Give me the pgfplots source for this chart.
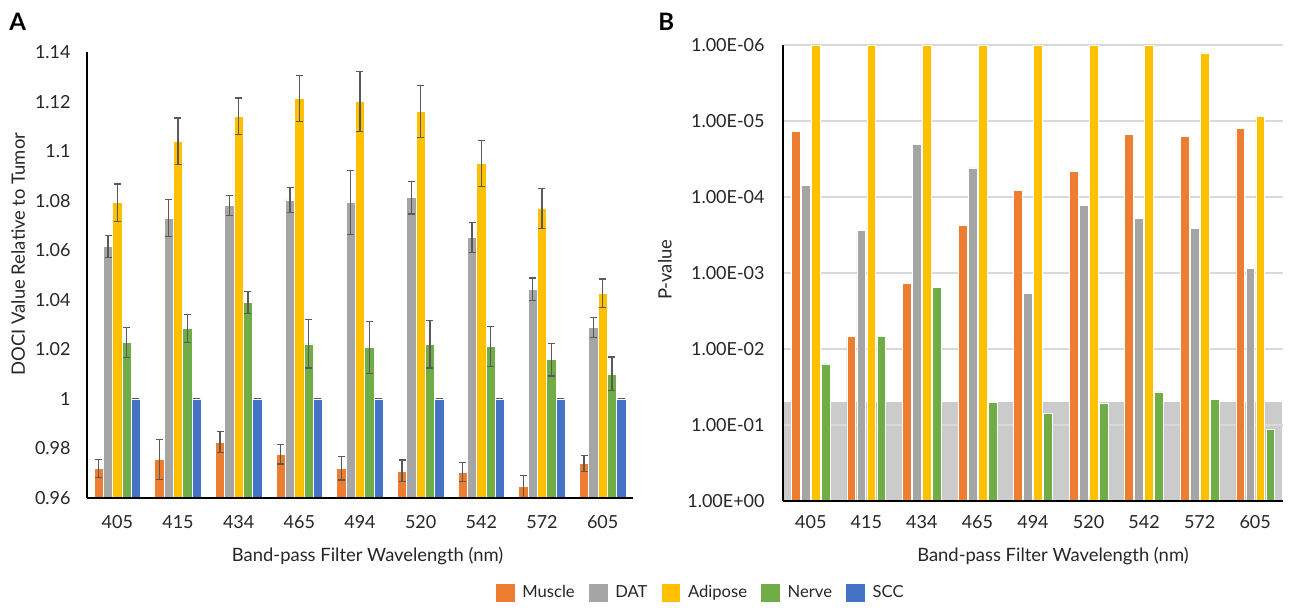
\documentclass[border=0pt]{standalone}
\usepackage{fontspec}
\setmainfont{Lato}
\usepackage{pgfplots}
\usepackage{pgfplotstable}
\pgfplotsset{compat=1.18}
\definecolor{cMus}{HTML}{ED7D31}
\definecolor{cDat}{HTML}{A5A5A5}
\definecolor{cAdi}{HTML}{FFC000}
\definecolor{cNer}{HTML}{70AD47}
\definecolor{cScc}{HTML}{4472C4}
\definecolor{cErr}{HTML}{595959}
\definecolor{cGrid}{HTML}{D9D9D9}
\definecolor{cShade}{HTML}{CBCBCB}

\pgfplotstableread{
x muscle mE dat dE adi aE nerve nE scc sE
0 0.9720 0.0036 1.0615 0.0044 1.0792 0.0075 1.0228 0.0060 1.0 0
1 0.9756 0.0080 1.0729 0.0075 1.1040 0.0094 1.0284 0.0055 1.0 0
2 0.9825 0.0042 1.0780 0.0040 1.1140 0.0074 1.0388 0.0044 1.0 0
3 0.9777 0.0040 1.0803 0.0050 1.1213 0.0093 1.0222 0.0097 1.0 0
4 0.9720 0.0047 1.0792 0.0130 1.1200 0.0122 1.0208 0.0105 1.0 0
5 0.9709 0.0044 1.0812 0.0066 1.1160 0.0104 1.0220 0.0095 1.0 0
6 0.9704 0.0038 1.0652 0.0060 1.0950 0.0094 1.0212 0.0080 1.0 0
7 0.9647 0.0045 1.0443 0.0045 1.0768 0.0080 1.0158 0.0066 1.0 0
8 0.9740 0.0033 1.0287 0.0040 1.0427 0.0057 1.0101 0.0068 1.0 0
}\doci

\pgfplotstableread{
x muscle dat adi nerve
0 1.36e-5 7.10e-5 1.00e-6 0.0157
1 6.80e-3 2.77e-4 1.00e-6 0.0068
2 1.38e-3 2.03e-5 1.00e-6 0.00153
3 2.34e-4 4.15e-5 1.00e-6 0.0510
4 8.26e-5 1.87e-3 1.00e-6 0.0700
5 4.55e-5 1.29e-4 1.00e-6 0.0518
6 1.50e-5 1.90e-4 1.00e-6 0.0368
7 1.59e-5 2.56e-4 1.27e-6 0.0465
8 1.25e-5 8.60e-4 8.77e-6 0.1130
}\pval

\pgfplotsset{
  sqleg/.style={legend image code/.code={\fill[##1] (0pt,-4.9pt) rectangle (9.8pt,4.9pt);}},
  errb/.style={error bars/.cd, y dir=both, y explicit,
     error bar style={color=cErr, line width=0.6pt},
     error mark options={rotate=90, mark size=1.75pt, line width=0.6pt, color=cErr}},
}

\begin{document}
\begin{tikzpicture}
\useasboundingbox (0,0) rectangle (646pt,-304pt);
\node[anchor=north west, inner sep=0pt, font=\fontsize{12}{14}\selectfont\bfseries] at (4.5pt,-6.5pt) {A};
\node[anchor=north west, inner sep=0pt, font=\fontsize{12}{14}\selectfont\bfseries] at (329pt,-6.5pt) {B};

\begin{axis}[
  at={(43.5pt,-26pt)}, anchor=north west, scale only axis,
  width=273pt, height=223pt,
  xmin=-0.5, xmax=8.5, ymin=0.96, ymax=1.14,
  ybar=0pt, bar width=4.65pt, axis on top,
  xtick={0,...,8}, xticklabels={405,415,434,465,494,520,542,572,605},
  ytick={0.96,0.98,1,1.02,1.04,1.06,1.08,1.1,1.12,1.14},
  yticklabels={0.96,0.98,1,1.02,1.04,1.06,1.08,1.1,1.12,1.14},
  axis x line*=bottom, axis y line*=left,
  axis line style={black, line width=0.6pt, -},
  major tick length=0pt,
  tick label style={font=\fontsize{9}{11}\selectfont, text=black!85},
  xticklabel style={anchor=north, inner sep=0pt, yshift=-8.5pt},
  yticklabel style={anchor=east, inner sep=0pt, xshift=-8pt},
  label style={font=\fontsize{9.2}{11}\selectfont, text=black!85},
  ylabel={DOCI Value Relative to Tumor},
  ylabel style={at={(axis description cs:-0.126,0.547)}, anchor=center},
  xlabel={Band-pass Filter Wavelength (nm)},
  xlabel style={at={(axis description cs:0.514,-0.130)}, anchor=center},
  legend columns=5,
  legend style={draw=none, fill=none, at={(1.128,-0.213)}, anchor=center,
    font=\fontsize{8.3}{10}\selectfont, text=black!85,
    /tikz/every even column/.append style={column sep=3.2pt},
    nodes={inner sep=3.5pt}},
]
\addplot[ybar, fill=cMus, draw=white, line width=0.3pt, sqleg, errb] table[x=x, y=muscle, y error=mE] {\doci};
\addplot[ybar, fill=cDat, draw=white, line width=0.3pt, sqleg, errb] table[x=x, y=dat, y error=dE] {\doci};
\addplot[ybar, fill=cAdi, draw=white, line width=0.3pt, sqleg, errb] table[x=x, y=adi, y error=aE] {\doci};
\addplot[ybar, fill=cNer, draw=white, line width=0.3pt, sqleg, errb] table[x=x, y=nerve, y error=nE] {\doci};
\addplot[ybar, fill=cScc, draw=white, line width=0.3pt, sqleg, errb] table[x=x, y=scc, y error=sE] {\doci};
\legend{Muscle, DAT, Adipose, Nerve, SCC}
\end{axis}

\begin{axis}[
  at={(391.5pt,-22.5pt)}, anchor=north west, scale only axis,
  width=250pt, height=228pt,
  xmin=-0.5, xmax=8.5, ymode=log, ymin=1e-6, ymax=1, y dir=reverse,
  bar width=4.4pt, clip=false,
  xtick={0,...,8}, xticklabels={405,415,434,465,494,520,542,572,605},
  ytick={1e-6,1e-5,1e-4,1e-3,1e-2,1e-1,1},
  yticklabels={1.00E-06,1.00E-05,1.00E-04,1.00E-03,1.00E-02,1.00E-01,1.00E+00},
  ymajorgrids, major grid style={color=cGrid, line width=0.8pt},
  axis x line*=bottom, axis y line*=left,
  axis line style={black, line width=0.6pt, -},
  major tick length=0pt, minor tick length=0pt,
  tick label style={font=\fontsize{9}{11}\selectfont, text=black!85},
  xticklabel style={anchor=north, inner sep=0pt, yshift=-7pt},
  yticklabel style={anchor=east, inner sep=0pt, xshift=-9pt},
  label style={font=\fontsize{9.2}{11}\selectfont, text=black!85},
  ylabel={P-value},
  ylabel style={at={(axis description cs:-0.236,0.507)}, anchor=center},
  xlabel={Band-pass Filter Wavelength (nm)},
  xlabel style={at={(axis description cs:0.54,-0.121)}, anchor=center},
]
% shaded band p > 0.05: one full-width bar from 1 to 0.05
\addplot[ybar, bar width=249.4pt, bar shift=0pt, fill=cShade, draw=none, forget plot] coordinates {(4,0.05)};
\addplot[color=cGrid, line width=0.8pt, forget plot] coordinates {(-0.5,0.1) (8.5,0.1)};
\addplot[ybar, bar shift=-7.5pt, fill=cMus, draw=white, line width=0.3pt] table[x=x, y=muscle] {\pval};
\addplot[ybar, bar shift=-2.5pt, fill=cDat, draw=white, line width=0.3pt] table[x=x, y=dat] {\pval};
\addplot[ybar, bar shift=2.5pt, fill=cAdi, draw=white, line width=0.3pt] table[x=x, y=adi] {\pval};
\addplot[ybar, bar shift=7.5pt, fill=cNer, draw=white, line width=0.3pt] table[x=x, y=nerve] {\pval};
\addplot[black, line width=0.6pt, forget plot] coordinates {(-0.5,1) (8.5,1)};
\addplot[black, line width=0.6pt, forget plot] coordinates {(-0.5,1) (-0.5,1e-6)};
\end{axis}
\end{tikzpicture}
\end{document}
